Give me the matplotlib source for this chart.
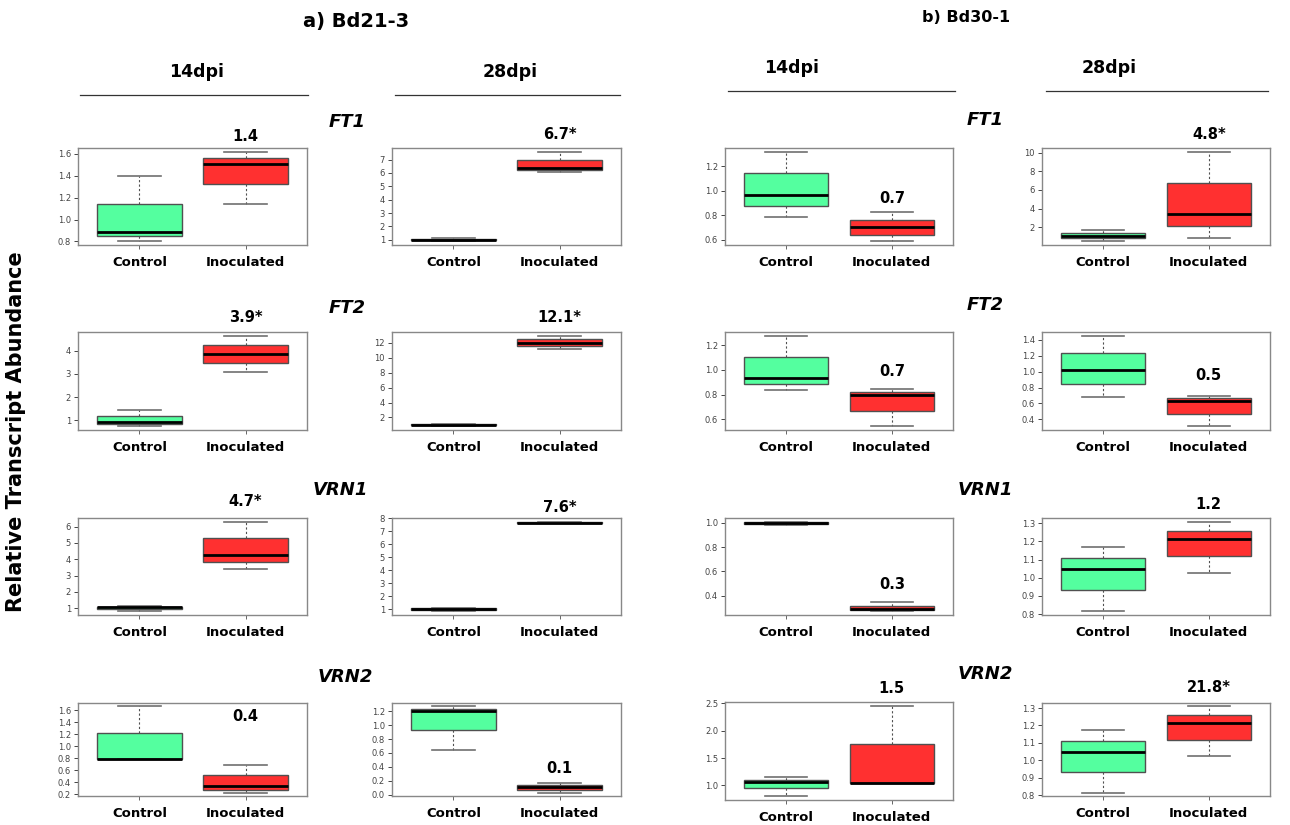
import numpy as np
import matplotlib
matplotlib.use('Agg')
import matplotlib.pyplot as plt
from matplotlib.lines import Line2D

# box summaries: whisker low, Q1, median, Q3, whisker high
# Bd21-3, 14dpi
ft1_bd21_14_ctrl = [0.80, 0.85, 0.89, 1.145, 1.40]
ft1_bd21_14_inoc = [1.14, 1.32, 1.505, 1.566, 1.62]
ft2_bd21_14_ctrl = [0.74, 0.84, 0.93, 1.19, 1.46]
ft2_bd21_14_inoc = [3.09, 3.46, 3.87, 4.26, 4.65]
vrn1_bd21_14_ctrl = [0.80, 0.93, 1.06, 1.10, 1.12]
vrn1_bd21_14_inoc = [3.41, 3.86, 4.27, 5.29, 6.31]
vrn2_bd21_14_ctrl = [0.78, 0.78, 0.79, 1.22, 1.66]
vrn2_bd21_14_inoc = [0.23, 0.28, 0.34, 0.52, 0.68]
# Bd21-3, 28dpi
ft1_bd21_28_ctrl = [0.88, 0.98, 1.02, 1.07, 1.13]
ft1_bd21_28_inoc = [6.10, 6.22, 6.37, 6.95, 7.60]
ft2_bd21_28_ctrl = [0.80, 0.98, 1.03, 1.08, 1.12]
ft2_bd21_28_inoc = [11.19, 11.64, 12.05, 12.54, 12.99]
vrn1_bd21_28_ctrl = [0.85, 0.95, 1.05, 1.10, 1.12]
vrn1_bd21_28_inoc = [7.60, 7.60, 7.63, 7.67, 7.72]
vrn2_bd21_28_ctrl = [0.65, 0.93, 1.20, 1.23, 1.27]
vrn2_bd21_28_inoc = [0.03, 0.07, 0.11, 0.14, 0.17]
# Bd30-1, 14dpi
ft1_bd30_14_ctrl = [0.786, 0.874, 0.964, 1.142, 1.32]
ft1_bd30_14_inoc = [0.586, 0.641, 0.70, 0.764, 0.824]
ft2_bd30_14_ctrl = [0.84, 0.884, 0.935, 1.10, 1.276]
ft2_bd30_14_inoc = [0.543, 0.671, 0.796, 0.82, 0.845]
vrn1_bd30_14_ctrl = [0.98, 0.99, 1.00, 1.01, 1.01]
vrn1_bd30_14_inoc = [0.272, 0.283, 0.29, 0.315, 0.35]
vrn2_bd30_14_ctrl = [0.80, 0.95, 1.07, 1.10, 1.15]
vrn2_bd30_14_inoc = [1.04, 1.05, 1.05, 1.76, 2.46]
# Bd30-1, 28dpi
ft1_bd30_28_ctrl = [0.51, 0.87, 1.08, 1.36, 1.72]
ft1_bd30_28_inoc = [0.90, 2.14, 3.42, 6.71, 10.1]
ft2_bd30_28_ctrl = [0.677, 0.851, 1.017, 1.238, 1.455]
ft2_bd30_28_inoc = [0.311, 0.472, 0.630, 0.664, 0.698]
vrn1_bd30_28_ctrl = [0.815, 0.934, 1.049, 1.11, 1.171]
vrn1_bd30_28_inoc = [1.024, 1.118, 1.212, 1.26, 1.309]
vrn2_bd30_28_ctrl = [0.815, 0.934, 1.049, 1.11, 1.171]
vrn2_bd30_28_inoc = [1.024, 1.118, 1.212, 1.26, 1.309]

# fold change shown over the inoculated box
fold_bd21_14 = ['1.4', '3.9*', '4.7*', '0.4']
fold_bd21_28 = ['6.7*', '12.1*', '7.6*', '0.1']
fold_bd30_14 = ['0.7', '0.7', '0.3', '1.5']
fold_bd30_28 = ['4.8*', '0.5', '1.2', '21.8*']

# y ticks per panel
ticks_bd21_14 = [[0.8, 1.0, 1.2, 1.4, 1.6], [1, 2, 3, 4], [1, 2, 3, 4, 5, 6],
                 [0.2, 0.4, 0.6, 0.8, 1.0, 1.2, 1.4, 1.6]]
ticks_bd21_28 = [[1, 2, 3, 4, 5, 6, 7], [2, 4, 6, 8, 10, 12], [1, 2, 3, 4, 5, 6, 7, 8],
                 [0.0, 0.2, 0.4, 0.6, 0.8, 1.0, 1.2]]
ticks_bd30_14 = [[0.6, 0.8, 1.0, 1.2], [0.6, 0.8, 1.0, 1.2], [0.4, 0.6, 0.8, 1.0],
                 [1.0, 1.5, 2.0, 2.5]]
ticks_bd30_28 = [[2, 4, 6, 8, 10], [0.4, 0.6, 0.8, 1.0, 1.2, 1.4],
                 [0.8, 0.9, 1.0, 1.1, 1.2, 1.3], [0.8, 0.9, 1.0, 1.1, 1.2, 1.3]]

genes = ['FT1', 'FT2', 'VRN1', 'VRN2']
groups = ['Control', 'Inoculated']

columns = [
    ([ft1_bd21_14_ctrl, ft2_bd21_14_ctrl, vrn1_bd21_14_ctrl, vrn2_bd21_14_ctrl],
     [ft1_bd21_14_inoc, ft2_bd21_14_inoc, vrn1_bd21_14_inoc, vrn2_bd21_14_inoc],
     ticks_bd21_14, fold_bd21_14),
    ([ft1_bd21_28_ctrl, ft2_bd21_28_ctrl, vrn1_bd21_28_ctrl, vrn2_bd21_28_ctrl],
     [ft1_bd21_28_inoc, ft2_bd21_28_inoc, vrn1_bd21_28_inoc, vrn2_bd21_28_inoc],
     ticks_bd21_28, fold_bd21_28),
    ([ft1_bd30_14_ctrl, ft2_bd30_14_ctrl, vrn1_bd30_14_ctrl, vrn2_bd30_14_ctrl],
     [ft1_bd30_14_inoc, ft2_bd30_14_inoc, vrn1_bd30_14_inoc, vrn2_bd30_14_inoc],
     ticks_bd30_14, fold_bd30_14),
    ([ft1_bd30_28_ctrl, ft2_bd30_28_ctrl, vrn1_bd30_28_ctrl, vrn2_bd30_28_ctrl],
     [ft1_bd30_28_inoc, ft2_bd30_28_inoc, vrn1_bd30_28_inoc, vrn2_bd30_28_inoc],
     ticks_bd30_28, fold_bd30_28),
]

W, H = 1290, 825
col_x = [(78, 307), (392, 621), (725, 953), (1042, 1270)]
row_y = [(148, 245), (332, 430), (518, 615), (703, 796)]
# where the fold label sits, in axes fraction
label_y = [[1.12, 1.15, 1.165, 0.86],
           [1.14, 1.15, 1.11, 0.30],
           [0.48, 0.60, 0.31, 1.14],
           [1.14, 0.56, 1.14, 1.17]]

fill_colors = ['#54FF9F', '#FF3030']

fig = plt.figure(figsize=(W / 100, H / 100), dpi=100)


def px_axes(x0, x1, y0, y1):
    return fig.add_axes([x0 / W, 1 - y1 / H, (x1 - x0) / W, (y1 - y0) / H])


for c, (ctrl_list, inoc_list, tick_list, fold_list) in enumerate(columns):
    x0, x1 = col_x[c]
    for r in range(4):
        y0, y1 = row_y[r]
        if c == 2 and r == 3:
            y0, y1 = 702, 800
        ax = px_axes(x0, x1, y0, y1)
        stats = []
        for name, s in zip(groups, [ctrl_list[r], inoc_list[r]]):
            stats.append(dict(label=name, whislo=s[0], q1=s[1], med=s[2],
                              q3=s[3], whishi=s[4], fliers=[]))
        bp = ax.bxp(stats, positions=[1, 2], widths=0.8, capwidths=0.4,
                    patch_artist=True, showfliers=False,
                    boxprops=dict(edgecolor='#505050', linewidth=1.0),
                    medianprops=dict(color='black', linewidth=2.0),
                    whiskerprops=dict(color='#505050', linewidth=0.8,
                                      linestyle=(0, (2, 2))),
                    capprops=dict(color='#707070', linewidth=1.2))
        for patch, fc in zip(bp['boxes'], fill_colors):
            patch.set_facecolor(fc)

        lo = min(ctrl_list[r][0], inoc_list[r][0])
        hi = max(ctrl_list[r][4], inoc_list[r][4])
        pad = 0.04 * (hi - lo)
        ax.set_ylim(lo - pad, hi + pad)
        ax.set_xlim(0.42, 2.58)

        ticks = tick_list[r]
        ax.set_yticks(ticks)
        if not isinstance(ticks[0], float):
            ax.set_yticklabels(['%d' % t for t in ticks])
        else:
            ax.set_yticklabels(['%.1f' % t for t in ticks])
        ax.tick_params(axis='y', labelsize=6, colors='#444444', length=3,
                       width=0.7, pad=2)
        ax.set_xticks([1, 2])
        ax.set_xticklabels(groups, fontsize=9.5, fontweight='bold')
        ax.tick_params(axis='x', length=3, width=0.7, color='#666666', pad=5)
        for sp in ax.spines.values():
            sp.set_color('#888888')
            sp.set_linewidth(1.0)

        ax.text(2, label_y[c][r], fold_list[r], transform=ax.get_xaxis_transform(),
                ha='center', va='center', fontsize=10.5, fontweight='bold',
                clip_on=False)

# column headings with rules underneath
headers = [('14dpi', 197, 72, 80, 308, 95), ('28dpi', 510, 72, 395, 620, 95),
           ('14dpi', 792, 68, 728, 955, 91), ('28dpi', 1109, 68, 1046, 1268, 91)]
for txt, tx, ty, lx0, lx1, ly in headers:
    fig.text(tx / W, 1 - ty / H, txt, ha='center', va='center',
             fontsize=12.5, fontweight='bold')
    fig.add_artist(Line2D([lx0 / W, lx1 / W], [1 - ly / H, 1 - ly / H],
                          color='#333333', linewidth=0.9,
                          transform=fig.transFigure))

fig.text(356 / W, 1 - 22 / H, 'a) Bd21-3', ha='center', va='center',
         fontsize=14, fontweight='bold')
fig.text(966 / W, 1 - 18 / H, 'b) Bd30-1', ha='center', va='center',
         fontsize=11.5, fontweight='bold')

gene_pos_left = [(347, 122), (347, 308), (340, 490), (345, 677)]
gene_pos_right = [(985, 120), (985, 305), (985, 490), (985, 674)]
for g, (lx, ly), (rx, ry) in zip(genes, gene_pos_left, gene_pos_right):
    fig.text(lx / W, 1 - ly / H, g, ha='center', va='center', fontsize=13,
             fontweight='bold', fontstyle='italic')
    fig.text(rx / W, 1 - ry / H, g, ha='center', va='center', fontsize=13,
             fontweight='bold', fontstyle='italic')

fig.text(16 / W, 1 - 432 / H, 'Relative Transcript Abundance', rotation=90,
         ha='center', va='center', fontsize=15, fontweight='bold')

fig.savefig('out.png', dpi=100)
